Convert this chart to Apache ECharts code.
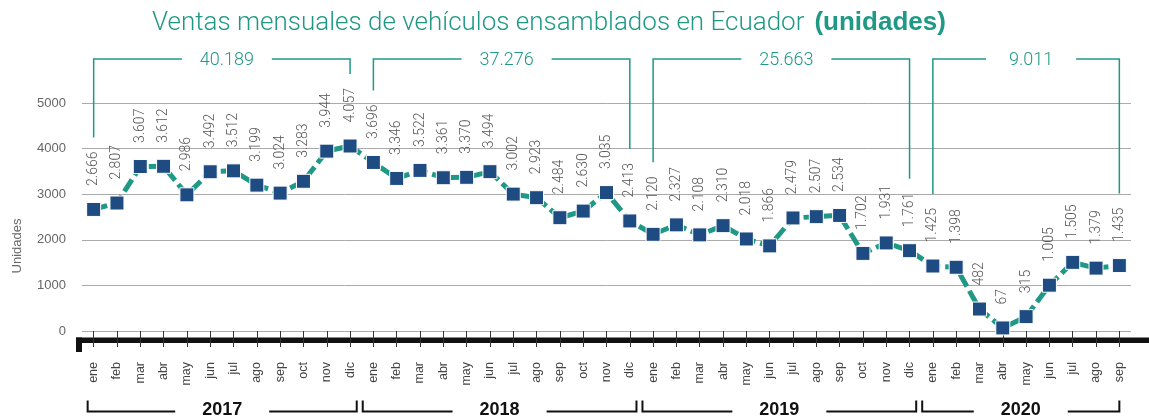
<!DOCTYPE html>
<html>
<head>
<meta charset="utf-8">
<script src="https://cdn.jsdelivr.net/npm/echarts@6/dist/echarts.min.js"></script>
<style>
  html, body { margin: 0; padding: 0; background: #fff; }
  #chart { width: 1149px; height: 416px; }
</style>
</head>
<body>
<div id="chart"></div>
<script>
// datos
const years = ['2017', '2018', '2019', '2020']
const months = ['ene', 'feb', 'mar', 'abr', 'may', 'jun', 'jul', 'ago', 'sep', 'oct', 'nov', 'dic']
const sales2017 = [2666, 2807, 3607, 3612, 2986, 3492, 3512, 3199, 3024, 3283, 3944, 4057]
const sales2018 = [3696, 3346, 3522, 3361, 3370, 3494, 3002, 2923, 2484, 2630, 3035, 2413]
const sales2019 = [2120, 2327, 2108, 2310, 2018, 1866, 2479, 2507, 2534, 1702, 1931, 1761]
const sales2020 = [1425, 1398, 482, 67, 315, 1005, 1505, 1379, 1435]
const yTicks = [0, 1000, 2000, 3000, 4000, 5000]

const yearSales = [sales2017, sales2018, sales2019, sales2020]
const categories = []
const values = []
yearSales.forEach(arr => {
  arr.forEach((v, i) => {
    categories.push(months[i])
    values.push(v)
  })
})

const teal = '#1f9986'
const blue = '#1d4b82'
const fmt = v => String(v).replace(/\B(?=(\d{3})+(?!\d))/g, '.')

const chart = echarts.init(document.getElementById('chart'))

chart.setOption({
  animation: false,
  backgroundColor: '#fff',
  title: {
    left: 147,
    top: 5,
    text: '{a|Ventas mensuales de vehículos ensamblados en Ecuador}  {b|(unidades)}',
    textStyle: {
      rich: {
        a: { color: teal, fontSize: 26, fontFamily: 'Roboto', fontWeight: 300 },
        b: { color: teal, fontSize: 26, fontFamily: 'Liberation Sans', fontWeight: 'bold' }
      }
    }
  },
  grid: {
    left: 82,
    right: 18,
    top: 103,
    bottom: 85
  },
  xAxis: {
    type: 'category',
    data: categories,
    offset: 12,
    axisLine: { show: false },
    axisTick: {
      show: true,
      alignWithLabel: true,
      length: 16,
      lineStyle: { color: '#333', width: 1 }
    },
    axisLabel: {
      interval: 0,
      rotate: 90,
      margin: 19,
      color: '#444',
      fontSize: 12.5,
      fontFamily: 'Liberation Sans'
    },
    splitLine: { show: false }
  },
  yAxis: {
    type: 'value',
    min: yTicks[0],
    max: yTicks[yTicks.length - 1],
    interval: 1000,
    axisLine: { show: false },
    axisTick: { show: false },
    axisLabel: {
      margin: 16,
      color: '#666',
      fontSize: 13,
      fontFamily: 'Liberation Sans',
      formatter: v => String(v)
    },
    splitLine: {
      lineStyle: { color: '#aaa', width: 1 }
    }
  },
  series: [{
    type: 'line',
    data: values,
    symbol: 'rect',
    symbolSize: 14,
    z: 3,
    itemStyle: {
      color: blue,
      borderColor: '#fff',
      borderWidth: 1
    },
    lineStyle: {
      color: teal,
      width: 5,
      type: [14, 5]
    },
    label: {
      show: true,
      position: 'top',
      distance: 16,
      rotate: 90,
      align: 'left',
      verticalAlign: 'middle',
      formatter: p => fmt(p.value),
      color: '#555',
      fontSize: 14,
      fontFamily: 'Roboto',
      fontWeight: 300
    }
  }]
})

// corchetes con totales anuales y etiquetas de año
const px = i => chart.convertToPixel({ seriesIndex: 0 }, [i, values[i]])
const step = px(1)[0] - px(0)[0]
const graphics = []

// linea gruesa del eje
graphics.push({ type: 'rect', shape: { x: 76, y: 337.5, width: 1149 - 76, height: 5.5 }, style: { fill: '#111' } })
graphics.push({ type: 'rect', shape: { x: 76, y: 337.5, width: 6, height: 14.5 }, style: { fill: '#111' } })

// titulo del eje y
graphics.push({
  type: 'text', x: 17, y: 246, rotation: Math.PI / 2,
  style: { text: 'Unidades', fill: '#666', font: '13px "Liberation Sans"', align: 'center', verticalAlign: 'middle' }
})

let start = 0
yearSales.forEach((arr, k) => {
  const s = start
  const e = start + arr.length - 1
  start += arr.length
  const total = arr.reduce((a, b) => a + b, 0)

  // corchete superior
  const pL = px(s)
  const pR = px(e)
  const yTop = 59
  const mid = (pL[0] + pR[0]) / 2 + 5
  const gap = 45
  graphics.push({
    type: 'polyline',
    shape: { points: [[pL[0], pL[1] - 72], [pL[0], yTop], [mid - gap, yTop]] },
    style: { stroke: teal, lineWidth: 1.5, fill: null }
  })
  graphics.push({
    type: 'polyline',
    shape: { points: [[mid + gap, yTop], [pR[0], yTop], [pR[0], pR[1] - 72]] },
    style: { stroke: teal, lineWidth: 1.5, fill: null }
  })
  graphics.push({
    type: 'text', x: mid, y: yTop + 1,
    style: { text: fmt(total), fill: teal, font: '300 18px Roboto', align: 'center', verticalAlign: 'middle' }
  })

  // corchete inferior del año
  const xL = k === 0 ? pL[0] - 6 : pL[0] - step / 2 + 1
  const xR = k === yearSales.length - 1 ? pR[0] : pR[0] + step / 2 - 5
  const yB = 411.5
  const yV = 400.5
  const bmid = (xL + xR) / 2
  const bgap = 47
  graphics.push({
    type: 'polyline',
    shape: { points: [[xL, yV], [xL, yB], [bmid - bgap, yB]] },
    style: { stroke: '#111', lineWidth: 2, fill: null }
  })
  graphics.push({
    type: 'polyline',
    shape: { points: [[bmid + bgap, yB], [xR, yB], [xR, yV]] },
    style: { stroke: '#111', lineWidth: 2, fill: null }
  })
  graphics.push({
    type: 'text', x: bmid, y: 410,
    style: { text: years[k], fill: '#111', font: 'bold 18px "Liberation Sans"', align: 'center', verticalAlign: 'middle' }
  })
})

chart.setOption({ graphic: graphics })
</script>
</body>
</html>
